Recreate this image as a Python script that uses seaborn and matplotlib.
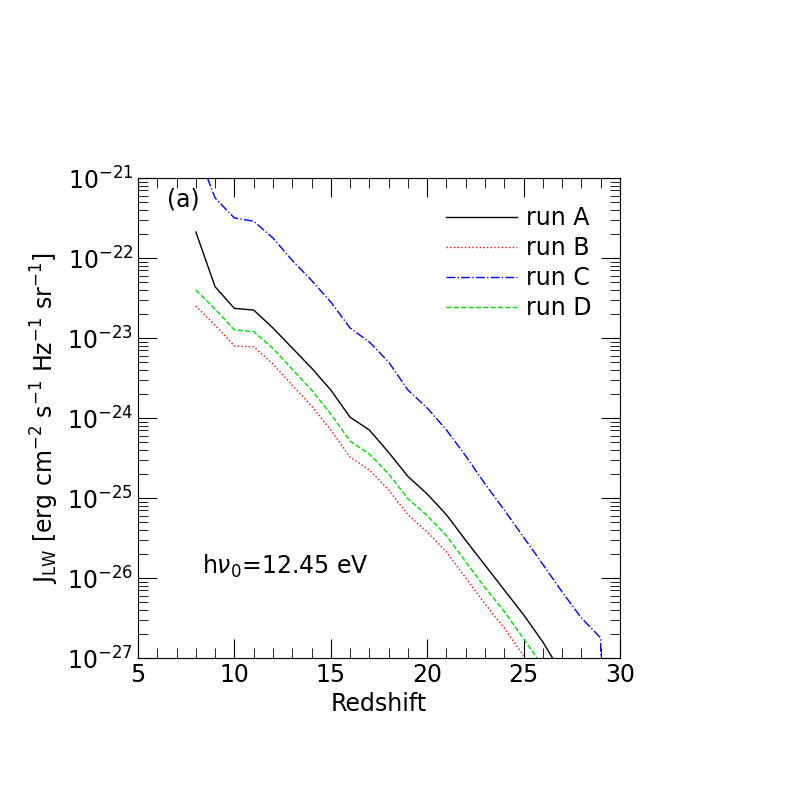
import numpy as np
import matplotlib
matplotlib.use("Agg")
import matplotlib.pyplot as plt
import seaborn as sns
import pandas as pd
from matplotlib.ticker import LogLocator, NullFormatter, MultipleLocator

zA = [8, 9, 10, 11, 12, 13, 14, 15, 16, 17, 18, 19, 20, 21, 22, 23, 24, 25, 26, 26.5]
logA = [-21.675, -22.36, -22.63, -22.65, -22.875, -23.125, -23.375, -23.65, -23.99, -24.15,
        -24.43, -24.73, -24.95, -25.21, -25.53, -25.84, -26.15, -26.46, -26.8, -27.0]
zB = [8, 9, 10, 11, 12, 13, 14, 15, 16, 17, 18, 19, 20, 21, 22, 23, 24, 25]
logB = [-22.6, -22.84, -23.1, -23.11, -23.325, -23.59, -23.85, -24.15, -24.49, -24.65,
        -24.9, -25.21, -25.425, -25.675, -26.0, -26.325, -26.625, -26.97]
zC = [8.6, 9, 10, 11, 12, 13, 14, 15, 16, 17, 18, 19, 20, 21, 22, 23, 24, 25, 26, 27, 28, 29, 29]
logC = [-21.0, -21.25, -21.5, -21.54, -21.75, -22.03, -22.28, -22.55, -22.875, -23.05, -23.3,
        -23.65, -23.875, -24.15, -24.475, -24.825, -25.15, -25.49, -25.83, -26.175, -26.5, -26.75, -27.0]
zD = [8, 9, 10, 11, 12, 13, 14, 15, 16, 17, 18, 19, 20, 21, 22, 23, 24, 25, 25.7]
logD = [-22.4, -22.64, -22.9, -22.92, -23.13, -23.39, -23.65, -23.95, -24.29, -24.45,
        -24.7, -25.01, -25.22, -25.47, -25.8, -26.12, -26.42, -26.76, -27.0]

series = [("run A", zA, logA, "black", "-"),
          ("run B", zB, logB, "red", ":"),
          ("run C", zC, logC, "blue", "-."),
          ("run D", zD, logD, "#00dd00", "--")]

fig = plt.figure(figsize=(7.97, 7.97), dpi=100)
ax = fig.add_axes([138/797, 1-658/797, (620-138)/797, (658-178)/797])
for name, z, lg, c, ls in series:
    df = pd.DataFrame({"z": z, "J": 10.0 ** np.array(lg)})
    sns.lineplot(data=df, x="z", y="J", ax=ax, color=c, linestyle=ls, lw=1,
                 label=name, sort=False, estimator=None)
ax.set_yscale("log")
ax.set_xlim(5, 30)
ax.set_ylim(1e-27, 1e-21)
ax.xaxis.set_major_locator(MultipleLocator(5))
ax.xaxis.set_minor_locator(MultipleLocator(1))
ax.yaxis.set_major_locator(LogLocator(base=10, numticks=20))
ax.yaxis.set_minor_locator(LogLocator(base=10, subs=np.arange(2, 10), numticks=20))
ax.yaxis.set_minor_formatter(NullFormatter())
ax.tick_params(which="both", direction="in", top=True, right=True, labelsize=17)
ax.tick_params(which="major", length=14)
ax.tick_params(which="minor", length=7)
ax.set_xlabel("Redshift", fontsize=17)
ax.set_ylabel(r"J$_{\rm LW}$ [erg cm$^{-2}$ s$^{-1}$ Hz$^{-1}$ sr$^{-1}$]", fontsize=17)
ax.text(6.5, 10**-21.35, "(a)", fontsize=17)
ax.text(8.3, 10**-25.95, r"h$\nu_0$=12.45 eV", fontsize=17)
leg = ax.legend(loc="upper right", frameon=False, fontsize=17, handlelength=3.0,
                handletextpad=0.4, borderaxespad=0.8, labelspacing=0.25)
fig.savefig("out.png", dpi=100)
